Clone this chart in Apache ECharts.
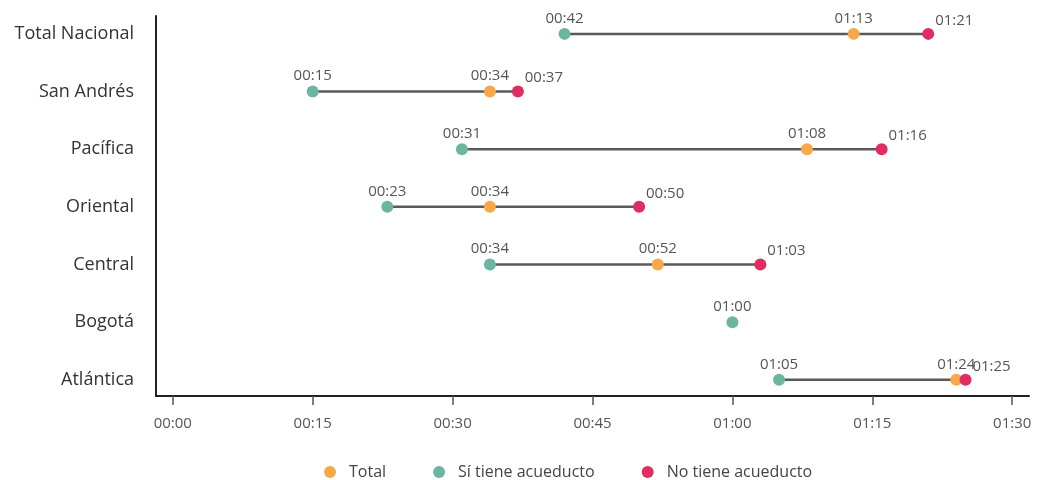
<!DOCTYPE html>
<html>
<head>
<meta charset="utf-8">
<script src="https://cdn.jsdelivr.net/npm/echarts@6/dist/echarts.min.js"></script>
<style>
  html, body { margin: 0; padding: 0; background: #fff; }
  #chart { width: 1037px; height: 480px; }
</style>
</head>
<body>
<div id="chart"></div>
<script>
// Regions (top to bottom)
const categories = ['Total Nacional', 'San Andrés', 'Pacífica', 'Oriental', 'Central', 'Bogotá', 'Atlántica'];
// Travel time in minutes
const totalMin = [73, 34, 68, 34, 52, null, 84];
const siAcueducto = [42, 15, 31, 23, 34, 60, 65];
const noAcueducto = [81, 37, 76, 50, 63, null, 85];
// Axis tick values (minutes)
const tickValues = [0, 15, 30, 45, 60, 75, 90];

const seriesNames = ['Total', 'Sí tiene acueducto', 'No tiene acueducto'];
const colors = { total: '#F8A848', si: '#6CB6A1', no: '#E02D62' };
const FONT = '"Open Sans", "Noto Sans", sans-serif';

function hhmm(min) {
  const h = Math.floor(min / 60);
  const m = Math.round(min - h * 60);
  return String(h).padStart(2, '0') + ':' + String(m).padStart(2, '0');
}

function points(arr) {
  return arr.map((v, i) => (v == null ? null : [v, i])).filter(Boolean);
}

// Range of each row for the connecting segment
const ranges = categories.map((c, i) => {
  const vals = [totalMin[i], siAcueducto[i], noAcueducto[i]].filter(v => v != null);
  return [Math.min(...vals), Math.max(...vals), i];
});

const chart = echarts.init(document.getElementById('chart'), null, { renderer: 'canvas' });

const labelBase = {
  show: true,
  position: 'top',
  distance: 2,
  color: '#555',
  fontSize: 15,
  fontFamily: FONT,
  formatter: p => hhmm(p.value[0])
};

chart.setOption({
  animation: false,
  textStyle: { fontFamily: FONT },
  grid: { left: 156, right: 8, top: 16, bottom: 84, containLabel: false },
  legend: {
    data: seriesNames,
    left: 319,
    top: 459,
    icon: 'circle',
    itemWidth: 12,
    itemHeight: 12,
    itemGap: 47,
    textStyle: { fontSize: 16, color: '#444', fontFamily: FONT, padding: [0, 0, 0, 8] }
  },
  xAxis: {
    type: 'value',
    min: -1.8,
    max: 91.8,
    splitLine: { show: false },
    axisLine: { show: true, onZero: false, lineStyle: { color: '#222', width: 2 } },
    axisTick: { show: true, customValues: tickValues, length: 9, lineStyle: { color: '#555', width: 1.5 } },
    axisLabel: {
      customValues: tickValues,
      formatter: v => hhmm(v),
      color: '#555',
      fontSize: 15,
      fontFamily: FONT,
      margin: 20
    }
  },
  yAxis: {
    type: 'value',
    inverse: true,
    min: -0.31,
    max: 6.28,
    splitLine: { show: false },
    axisLine: { show: true, onZero: false, lineStyle: { color: '#222', width: 2 } },
    axisTick: { show: false },
    axisLabel: {
      customValues: categories.map((c, i) => i),
      formatter: v => categories[Math.round(v)],
      color: '#333',
      fontSize: 18,
      fontFamily: FONT,
      margin: 22
    }
  },
  series: [
    {
      type: 'custom',
      name: 'rango',
      silent: true,
      z: 1,
      data: ranges,
      encode: { x: [0, 1], y: 2 },
      renderItem: (params, api) => {
        const a = api.coord([api.value(0), api.value(2)]);
        const b = api.coord([api.value(1), api.value(2)]);
        return {
          type: 'line',
          shape: { x1: a[0], y1: a[1], x2: b[0], y2: b[1] },
          style: { stroke: '#5a5a5a', lineWidth: 2.5 }
        };
      }
    },
    {
      type: 'scatter',
      name: seriesNames[0],
      z: 3,
      symbolSize: 12,
      itemStyle: { color: colors.total, opacity: 1 },
      label: labelBase,
      data: points(totalMin)
    },
    {
      type: 'scatter',
      name: seriesNames[1],
      z: 3,
      symbolSize: 12,
      itemStyle: { color: colors.si, opacity: 1 },
      label: labelBase,
      data: points(siAcueducto)
    },
    {
      type: 'scatter',
      name: seriesNames[2],
      z: 4,
      symbolSize: 12,
      itemStyle: { color: colors.no, opacity: 1 },
      label: Object.assign({}, labelBase, { offset: [26, 2] }),
      data: points(noAcueducto)
    }
  ]
});
</script>
</body>
</html>
